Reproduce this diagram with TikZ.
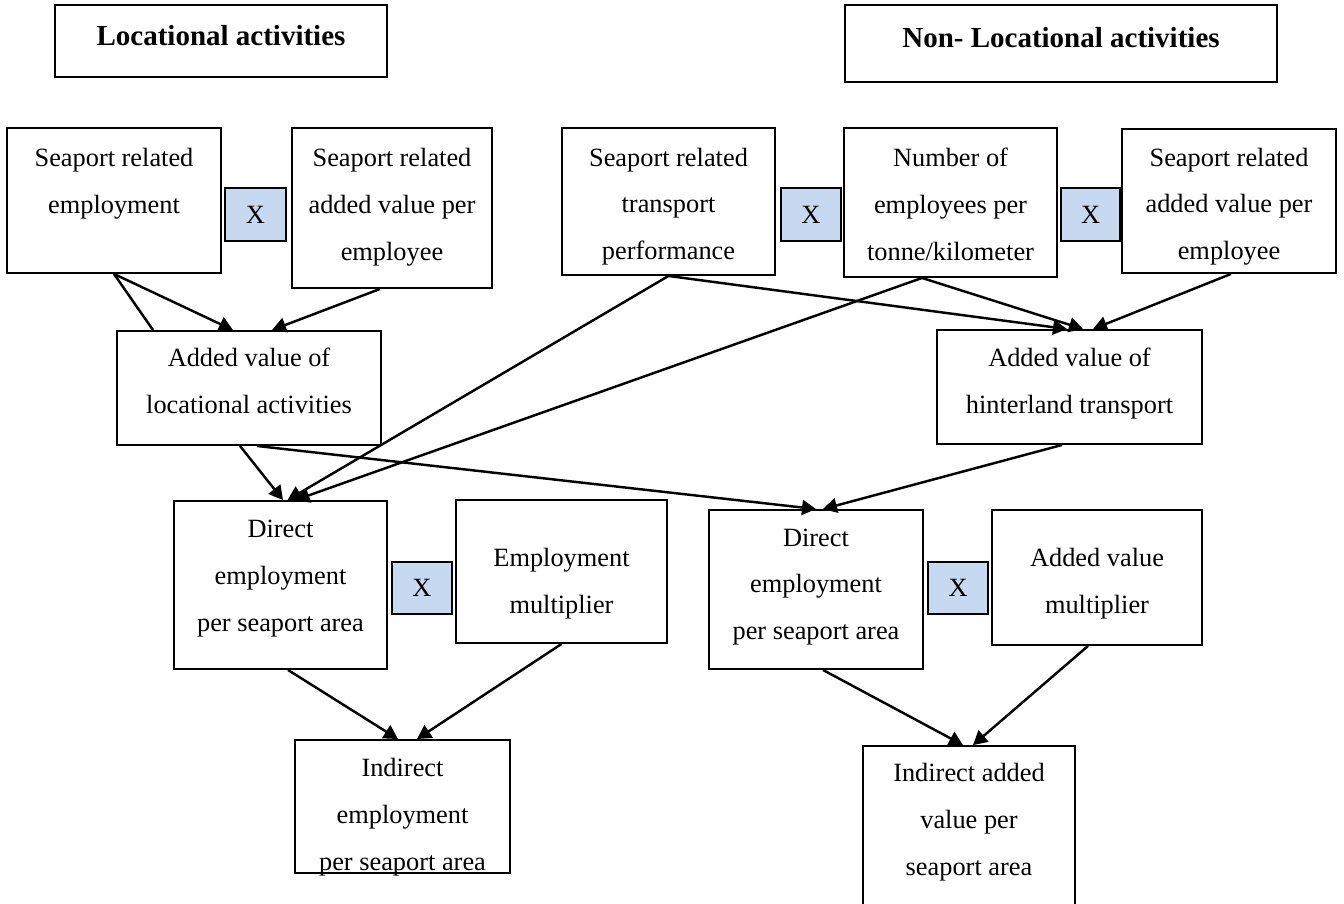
\documentclass[tikz,border=0pt]{standalone}
\usepackage{fontspec}
\setmainfont{Liberation Serif}
\usetikzlibrary{arrows.meta}
\definecolor{xblue}{RGB}{198,217,241}

\begin{document}
\begin{tikzpicture}[
    x=0.02cm, y=-0.02cm,
    box/.style={draw, line width=1.1pt, inner sep=0pt},
    txt/.style={align=center, inner sep=0pt, font=\fontsize{15}{26.6}\selectfont},
    xbox/.style={draw, fill=xblue, line width=1.1pt, inner sep=0pt,
      minimum width=1.2cm, minimum height=1.06cm, font=\fontsize{15}{18}\selectfont},
    title/.style={draw, line width=1.1pt, inner sep=0pt, text depth=0.24cm,
      font=\fontsize{16.5}{20}\selectfont\bfseries},
    arr/.style={-{Triangle[length=0.28cm, width=0.3cm]}, line width=1.4pt},
    ln/.style={line width=1.4pt}
  ]
  \useasboundingbox (0,0) rectangle (1344,903);

  % Titles
  \node[title, minimum width=6.64cm, minimum height=1.44cm] (tloc) at (221,41) {Locational activities};
  \node[title, minimum width=8.64cm, minimum height=1.54cm] (tnon) at (1061,43.5) {Non- Locational activities};

  % Top row
  \node[box, minimum width=4.28cm, minimum height=2.9cm,
    label={[txt, yshift=-0.08cm]center:Seaport related\\ employment\\ \mbox{}}] (emp) at (114,200.5) {};
  \node[xbox, minimum width=1.22cm] (x1) at (255.5,214.5) {X};
  \node[box, minimum width=4.0cm, minimum height=3.2cm,
    label={[txt, yshift=0.02cm]center:Seaport related\\ added value per\\ employee}] (avemp) at (392,208) {};
  \node[box, minimum width=4.26cm, minimum height=2.94cm,
    label={[txt, yshift=-0.1cm]center:Seaport related\\ transport\\ performance}] (trans) at (668.5,201.5) {};
  \node[xbox] (x2) at (811,214.5) {X};
  \node[box, minimum width=4.26cm, minimum height=2.98cm,
    label={[txt, yshift=-0.04cm]center:Number of\\ employees per\\ tonne/kilometer}] (nemp) at (950.5,202.5) {};
  \node[xbox, minimum width=1.18cm] (x3) at (1090.5,214.5) {X};
  \node[box, minimum width=4.28cm, minimum height=2.88cm,
    label={[txt, yshift=-0.11cm]center:Seaport related\\ added value per\\ employee}] (avemp2) at (1229,201) {};

  % Middle row
  \node[box, minimum width=5.28cm, minimum height=2.28cm,
    label={[txt, yshift=0.14cm]center:Added value of\\ locational activities}] (avloc) at (249,388) {};
  \node[box, minimum width=5.3cm, minimum height=2.28cm,
    label={[txt, yshift=0.07cm]center:Added value of\\ hinterland transport}] (avhin) at (1069.5,387) {};

  % Lower row
  \node[box, minimum width=4.26cm, minimum height=3.36cm,
    label={[txt, yshift=0.13cm]center:Direct\\ employment\\ per seaport area}] (dir1) at (280.5,585) {};
  \node[xbox, minimum height=1.04cm] (x4) at (422,588) {X};
  \node[box, minimum width=4.22cm, minimum height=2.86cm,
    label={[txt, yshift=-0.25cm]center:Employment\\ multiplier}] (mult1) at (561.5,571.5) {};
  \node[box, minimum width=4.28cm, minimum height=3.18cm,
    label={[txt, yshift=0.05cm]center:Direct\\ employment\\ per seaport area}] (dir2) at (816,589.5) {};
  \node[xbox, minimum height=1.04cm] (x5) at (958,588) {X};
  \node[box, minimum width=4.2cm, minimum height=2.7cm,
    label={[txt, yshift=-0.13cm]center:Added value\\ multiplier}] (mult2) at (1097,577.5) {};

  % Bottom row
  \node[box, minimum width=4.3cm, minimum height=2.66cm,
    label={[txt, yshift=-0.21cm]center:Indirect\\ employment\\ per seaport area}] (ind1) at (402.5,806.5) {};
  \node[box, minimum width=4.24cm, minimum height=3.68cm,
    label={[txt, yshift=-0.09cm]center:Indirect added\\ value per\\ seaport area\\ \mbox{}}] (ind2) at (969,838) {};

  % Into added value of locational activities
  \draw[arr] (emp.south) -- ([xshift=-0.32cm]avloc.north);
  \draw[ln] (emp.south) -- ([xshift=-1.92cm]avloc.north);
  \draw[arr] ([xshift=-0.24cm]avemp.south) -- ([xshift=0.46cm]avloc.north);
  % Into added value of hinterland transport
  \draw[arr] (trans.south) -- ([xshift=-0.05cm]avhin.north);
  \draw[arr] ([xshift=-0.57cm]nemp.south) -- ([xshift=0.27cm]avhin.north);
  \draw[arr] ([xshift=0.04cm]avemp2.south) -- ([xshift=0.47cm]avhin.north);
  % Into direct employment (left)
  \draw[arr] ([xshift=-0.18cm]avloc.south) -- ([xshift=0.05cm]dir1.north);
  \draw[arr] (trans.south) -- ([xshift=0.14cm]dir1.north);
  \draw[arr] ([xshift=-0.57cm]nemp.south) -- ([xshift=0.3cm]dir1.north);
  % Into direct employment (right)
  \draw[arr] ([xshift=0.16cm]avloc.south) -- (dir2.north);
  \draw[arr] ([xshift=-0.15cm]avhin.south) -- ([xshift=0.14cm]dir2.north);
  % Into indirect effects
  \draw[arr] ([xshift=0.15cm]dir1.south) -- ([xshift=-0.09cm]ind1.north);
  \draw[arr] (mult1.south) -- ([xshift=0.29cm]ind1.north);
  \draw[arr] ([xshift=0.14cm]dir2.south) -- ([xshift=-0.12cm]ind2.north);
  \draw[arr] ([xshift=-0.18cm]mult2.south) -- ([xshift=0.08cm]ind2.north);
\end{tikzpicture}
\end{document}
